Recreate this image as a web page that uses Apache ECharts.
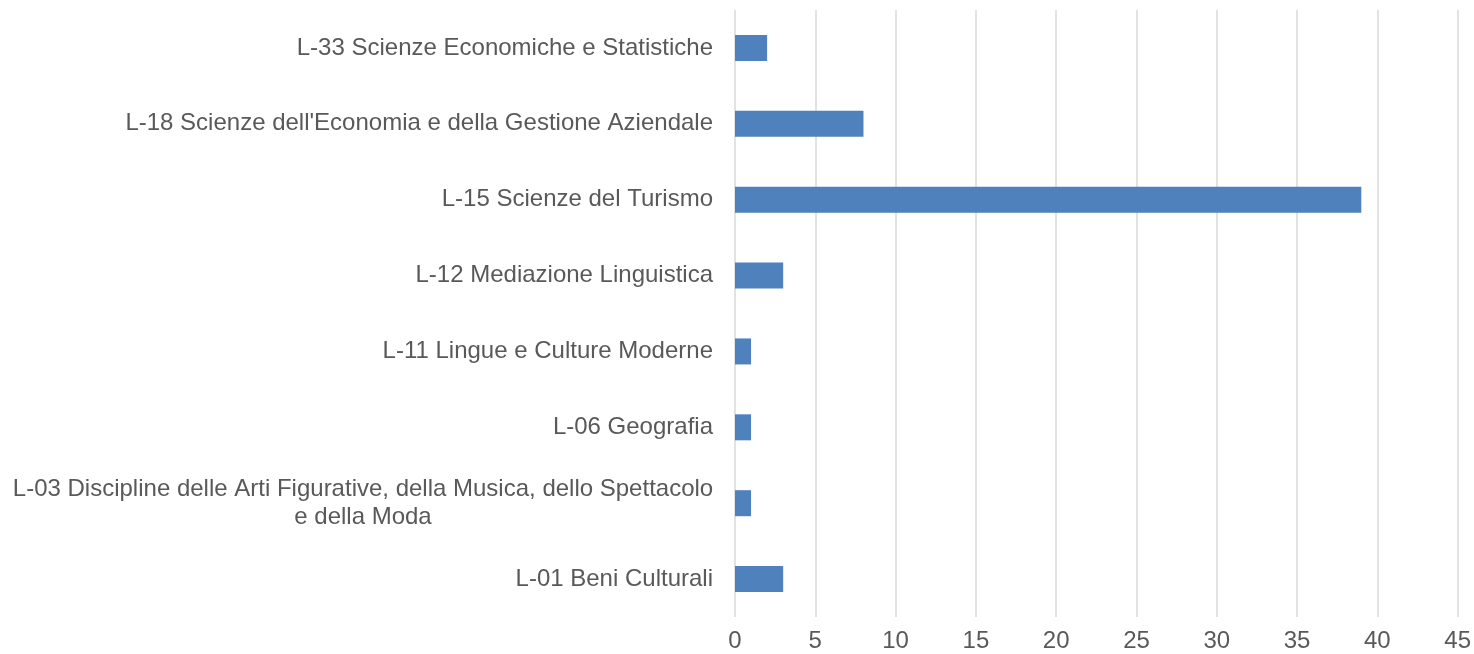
<!DOCTYPE html>
<html><head><meta charset="utf-8">
<script src="https://cdn.jsdelivr.net/npm/echarts@6/dist/echarts.min.js"></script>
<style>html,body{margin:0;padding:0;background:#fff}#c{width:1474px;height:654px}</style>
</head><body><div id="c"></div>
<script>
const categories = [
  "L-01 Beni Culturali",
  "L-03 Discipline delle Arti Figurative, della Musica, dello Spettacolo\ne della Moda",
  "L-06 Geografia",
  "L-11 Lingue e Culture Moderne",
  "L-12 Mediazione Linguistica",
  "L-15 Scienze del Turismo",
  "L-18 Scienze dell'Economia e della Gestione Aziendale",
  "L-33 Scienze Economiche e Statistiche"
];
const values = [3, 1, 1, 1, 3, 39, 8, 2];
const xTicks = [0, 5, 10, 15, 20, 25, 30, 35, 40, 45];

const FONT = 'Liberation Sans, Arial, sans-serif';
const FS = 24;
const chart = echarts.init(document.getElementById('c'));
chart.setOption({
  animation: false,
  grid: { left: 735, right: 16, top: 10, bottom: 37, containLabel: false },
  xAxis: {
    type: 'value', min: xTicks[0], max: xTicks[xTicks.length - 1], interval: 5,
    axisLine: { show: false }, axisTick: { show: false },
    splitLine: { show: true, lineStyle: { color: '#D9D9D9', width: 1.5 } },
    axisLabel: { color: '#595959', fontSize: FS, fontFamily: FONT, margin: 12 }
  },
  yAxis: {
    type: 'category', data: categories,
    axisLine: { show: false }, axisTick: { show: false },
    axisLabel: {
      color: '#595959', fontSize: FS, fontFamily: FONT, margin: 22,
      lineHeight: 28,
      formatter: function (v) {
        if (v.indexOf('\n') >= 0) {
          return v.split('\n').map(s => '{c|' + s + '}').join('\n');
        }
        return v;
      },
      rich: { c: { width: 700, align: 'center', color: '#595959', fontSize: FS, lineHeight: 28, fontFamily: FONT } }
    }
  },
  series: [{
    type: 'bar', data: values, barWidth: 26,
    itemStyle: { color: '#4F81BD' }
  }]
});
</script></body></html>
